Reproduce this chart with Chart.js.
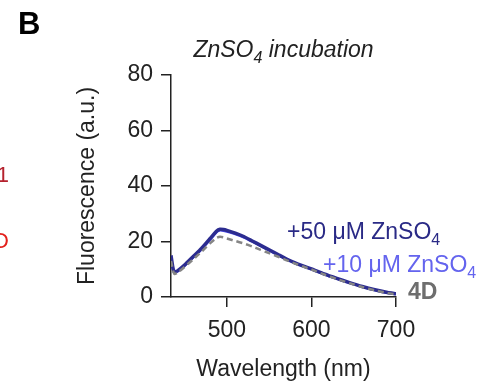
<!DOCTYPE html>
<html>
<head>
<meta charset="utf-8">
<script src="https://cdn.jsdelivr.net/npm/chart.js@4"></script>
<style>
  body { margin: 0; background: #fff; }
  canvas { display: block; }
</style>
</head>
<body>
<canvas id="myChart" width="500" height="391"></canvas>
<script>
'use strict'

// wavelength (nm) and fluorescence (a.u.)
let wavelength = [434, 436, 438, 442, 450, 460, 470, 480, 488, 492, 496, 500, 510, 520, 530, 540, 550, 560, 570, 580, 590, 600, 615, 630, 645, 660, 675, 690, 700];
let zn50 = [15, 11, 9, 9.5, 11.5, 14.5, 17.5, 21, 23.8, 24.4, 24.3, 24, 23, 21.8, 20.2, 18.6, 17, 15.4, 13.8, 12.4, 11.2, 10.1, 8.3, 6.7, 5.2, 3.8, 2.6, 1.6, 1.2];
let zn10 = [14, 10.5, 8.8, 9.3, 11.3, 14.2, 17.2, 20.6, 23.4, 24, 23.9, 23.6, 22.7, 21.5, 20, 18.4, 16.8, 15.2, 13.7, 12.3, 11.1, 10, 8.2, 6.6, 5.1, 3.7, 2.5, 1.5, 1.1];
let d4 = [13, 10, 8.3, 8.8, 10.8, 13.5, 16.3, 19.3, 21.3, 21.7, 21.5, 21.1, 20.2, 19.3, 18.2, 17, 15.8, 14.6, 13.3, 12.1, 11, 9.9, 8.1, 6.5, 5, 3.6, 2.4, 1.4, 1.0];

let xTicks = [500, 600, 700];
let yTicks = [0, 20, 40, 60, 80];
let seriesNames = ['+50 \u03BCM ZnSO', '+10 \u03BCM ZnSO', '4D'];

const FONT = '"Liberation Sans", Arial, sans-serif';

function pts(ys) {
  return wavelength.map((w, i) => ({x: w, y: ys[i]}));
}

// text with a subscript piece in the middle
function subText(ctx, x, y, main, sub, rest, size, style) {
  ctx.font = style + ' ' + size + 'px ' + FONT;
  ctx.fillText(main, x, y);
  x += ctx.measureText(main).width;
  ctx.font = style + ' ' + Math.round(size * 0.7) + 'px ' + FONT;
  ctx.fillText(sub, x, y + 6);
  x += ctx.measureText(sub).width;
  if (rest) {
    ctx.font = style + ' ' + size + 'px ' + FONT;
    ctx.fillText(rest, x, y);
  }
}

function textWidth(ctx, main, sub, rest, size, style) {
  ctx.font = style + ' ' + size + 'px ' + FONT;
  let w = ctx.measureText(main).width + (rest ? ctx.measureText(rest).width : 0);
  ctx.font = style + ' ' + Math.round(size * 0.7) + 'px ' + FONT;
  return w + ctx.measureText(sub).width;
}

const labelsPlugin = {
  id: 'labels',
  afterDraw(chart) {
    let ctx = chart.ctx;
    ctx.save();
    ctx.textAlign = 'left';
    ctx.textBaseline = 'alphabetic';

    // panel letter
    ctx.fillStyle = '#000';
    ctx.font = 'bold 31px ' + FONT;
    ctx.fillText('B', 18, 34);

    // cut-off bits of the neighbouring panel
    ctx.font = '22px ' + FONT;
    ctx.fillStyle = '#b5222e';
    ctx.textAlign = 'right';
    ctx.fillText('1', 9, 182);
    ctx.fillStyle = '#e3201b';
    ctx.fillText('D', 9, 248);
    ctx.textAlign = 'left';

    // title
    ctx.fillStyle = '#222';
    let tw = textWidth(ctx, 'ZnSO', '4', ' incubation', 23, 'italic');
    let cx = (chart.chartArea.left + chart.chartArea.right) / 2;
    subText(ctx, cx - tw / 2, 57, 'ZnSO', '4', ' incubation', 23, 'italic');

    // series labels
    ctx.fillStyle = '#2a2a86';
    subText(ctx, 287, 239, seriesNames[0], '4', '', 23, 'normal');
    ctx.fillStyle = '#6464ee';
    subText(ctx, 323, 272, seriesNames[1], '4', '', 23, 'normal');
    ctx.fillStyle = '#6e6e6e';
    ctx.font = 'bold 23px ' + FONT;
    ctx.fillText(seriesNames[2], 408, 299);
    ctx.restore();
  }
};

let ctx = document.getElementById('myChart').getContext('2d');
let myChart = new Chart(ctx, {
  type: 'line',
  data: {
    datasets: [
      {
        label: seriesNames[2],
        data: pts(d4),
        borderColor: '#858585',
        borderWidth: 2.5,
        borderDash: [6, 4],
        pointRadius: 0,
        tension: 0.2
      },
      {
        label: seriesNames[0],
        data: pts(zn50),
        borderColor: '#2c2c90',
        borderWidth: 3.5,
        pointRadius: 0,
        tension: 0.2
      },
      {
        label: seriesNames[1],
        data: pts(zn10),
        borderColor: '#4848ea',
        borderWidth: 2.5,
        pointRadius: 0,
        tension: 0.2
      }
    ]
  },
  options: {
    responsive: false,
    animation: false,
    layout: { padding: { left: 0, top: 75, right: 104, bottom: 0 } },
    plugins: {
      legend: { display: false },
      tooltip: { enabled: false }
    },
    scales: {
      x: {
        type: 'linear',
        min: 434,
        max: 700,
        afterFit: s => { s.height = 94; },
        afterBuildTicks: s => { s.ticks = xTicks.map(v => ({value: v})); },
        grid: { drawOnChartArea: false, tickLength: 10, color: '#222', lineWidth: 1.5 },
        border: { display: true, color: '#222', width: 1.5 },
        ticks: { color: '#222', padding: 10, maxRotation: 0, font: { family: FONT, size: 23 } },
        title: {
          display: true,
          text: 'Wavelength (nm)',
          color: '#222',
          padding: { top: 0, bottom: 8 },
          font: { family: FONT, size: 23 }
        }
      },
      y: {
        min: 0,
        max: 80,
        afterFit: s => { s.width = 171; },
        afterBuildTicks: s => { s.ticks = yTicks.map(v => ({value: v})); },
        grid: { drawOnChartArea: false, tickLength: 10, color: '#222', lineWidth: 1.5 },
        border: { display: true, color: '#222', width: 1.5 },
        ticks: { color: '#222', padding: 8, font: { family: FONT, size: 23 } },
        title: {
          display: true,
          text: 'Fluorescence (a.u.)',
          color: '#222',
          padding: { top: 74, bottom: 0 },
          font: { family: FONT, size: 23 }
        }
      }
    }
  },
  plugins: [labelsPlugin]
});
</script>
</body>
</html>
